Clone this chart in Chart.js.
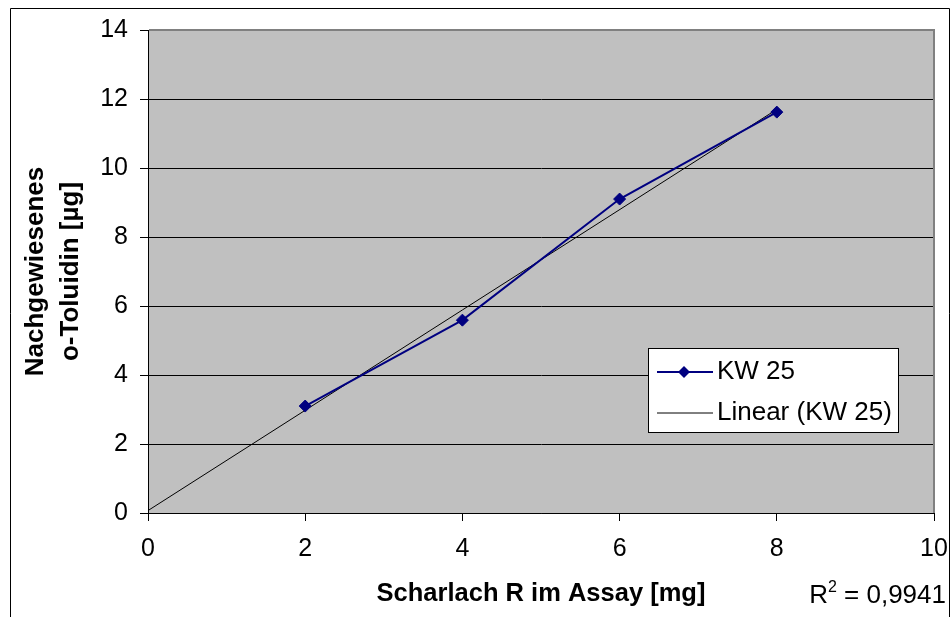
<!DOCTYPE html>
<html>
<head>
<meta charset="utf-8">
<script src="https://cdn.jsdelivr.net/npm/chart.js@4/dist/chart.umd.min.js"></script>
<style>
  html, body { margin: 0; padding: 0; background: #ffffff; }
  #wrap { width: 952px; height: 617px; position: relative; }
</style>
</head>
<body>
<div id="wrap"><canvas id="c" width="952" height="617"></canvas></div>
<script>
// ---- data ----
const xValues = [2, 4, 6, 8];
const kw25 = [3.1, 5.59, 9.1, 11.62];
const trendX = [0, 8];
const trendY = [0.07, 11.7];
const xTicks = [0, 2, 4, 6, 8, 10];
const yTicks = [0, 2, 4, 6, 8, 10, 12, 14];
const seriesLabel = 'KW 25';
const trendLabel = 'Linear (KW 25)';
const xTitle = 'Scharlach R im Assay [mg]';
const yTitle = ['Nachgewiesenes', 'o-Toluidin [µg]'];
const r2Text = ['R', '2', ' = 0,9941'];

const FONT = "'Liberation Sans', Arial, sans-serif";

const kwPoints = xValues.map((x, i) => ({ x: x, y: kw25[i] }));
const trendPoints = trendX.map((x, i) => ({ x: x, y: trendY[i] }));

const decorPlugin = {
  id: 'decor',
  beforeDraw(chart) {
    const { ctx, chartArea: a } = chart;
    ctx.save();
    ctx.fillStyle = '#ffffff';
    ctx.fillRect(0, 0, chart.width, chart.height);
    ctx.fillStyle = '#c0c0c0';
    ctx.fillRect(a.left, a.top, a.right - a.left, a.bottom - a.top);
    ctx.strokeStyle = '#000000';
    ctx.lineWidth = 1;
    ctx.beginPath();
    ctx.moveTo(10.5, chart.height + 2);
    ctx.lineTo(10.5, 8.5);
    ctx.lineTo(949.5, 8.5);
    ctx.lineTo(949.5, chart.height + 2);
    ctx.stroke();
    ctx.restore();
  },
  beforeDatasetsDraw(chart) {
    const { ctx, chartArea: a } = chart;
    ctx.save();
    ctx.strokeStyle = '#808080';
    ctx.lineWidth = 2;
    ctx.beginPath();
    ctx.moveTo(a.left + 1, a.top);
    ctx.lineTo(a.right, a.top);
    ctx.lineTo(a.right, a.bottom);
    ctx.stroke();
    ctx.restore();
  },
  afterDraw(chart) {
    const { ctx } = chart;
    const ds = chart.data.datasets;
    ctx.save();
    const bx = 648.5, by = 348.5, bw = 250, bh = 84;
    ctx.fillStyle = '#ffffff';
    ctx.fillRect(bx, by, bw, bh);
    ctx.strokeStyle = '#000000';
    ctx.lineWidth = 1;
    ctx.strokeRect(bx, by, bw, bh);
    const rows = [372, 413];
    ds.forEach((d, i) => {
      const y = rows[i];
      ctx.strokeStyle = d.borderColor;
      ctx.lineWidth = d.borderWidth;
      ctx.beginPath();
      ctx.moveTo(657, y);
      ctx.lineTo(713, y);
      ctx.stroke();
      if (d.pointRadius > 0) {
        ctx.fillStyle = d.pointBackgroundColor;
        const r = d.pointRadius;
        ctx.beginPath();
        ctx.moveTo(684, y - r);
        ctx.lineTo(684 + r, y);
        ctx.lineTo(684, y + r);
        ctx.lineTo(684 - r, y);
        ctx.closePath();
        ctx.fill();
      }
      ctx.fillStyle = '#000000';
      ctx.font = '26px ' + FONT;
      ctx.textAlign = 'left';
      ctx.textBaseline = 'middle';
      ctx.fillText(d.label, 717, y);
    });
    ctx.fillStyle = '#000000';
    ctx.textBaseline = 'alphabetic';
    ctx.textAlign = 'left';
    ctx.font = '26px ' + FONT;
    const w0 = ctx.measureText(r2Text[0]).width;
    const w2 = ctx.measureText(r2Text[2]).width;
    ctx.font = '16px ' + FONT;
    const w1 = ctx.measureText(r2Text[1]).width;
    let x = 946 - (w0 + w1 + w2);
    const base = 603;
    ctx.font = '26px ' + FONT;
    ctx.fillText(r2Text[0], x, base);
    x += w0;
    ctx.font = '16px ' + FONT;
    ctx.fillText(r2Text[1], x, base - 11);
    x += w1;
    ctx.font = '26px ' + FONT;
    ctx.fillText(r2Text[2], x, base);
    ctx.restore();
  }
};

new Chart(document.getElementById('c'), {
  type: 'scatter',
  data: {
    datasets: [
      {
        label: seriesLabel,
        data: kwPoints,
        showLine: true,
        borderColor: '#000080',
        backgroundColor: '#000080',
        pointBackgroundColor: '#000080',
        pointBorderColor: '#000080',
        borderWidth: 2,
        pointStyle: 'rectRot',
        pointRadius: 6,
        pointBorderWidth: 1,
        tension: 0,
        order: 1
      },
      {
        label: trendLabel,
        data: trendPoints,
        showLine: true,
        borderColor: '#000000',
        backgroundColor: '#000000',
        pointBackgroundColor: '#000000',
        borderWidth: 1,
        pointRadius: 0,
        tension: 0,
        order: 2
      }
    ]
  },
  options: {
    responsive: false,
    animation: false,
    devicePixelRatio: 1,
    layout: { padding: { left: 0, top: 30, right: 18, bottom: 0 } },
    plugins: {
      legend: { display: false },
      tooltip: { enabled: false },
      title: { display: false }
    },
    scales: {
      x: {
        type: 'linear',
        min: 0,
        max: 10,
        afterBuildTicks(scale) { scale.ticks = xTicks.map(v => ({ value: v })); },
        afterFit(scale) { scale.height = 104; scale.paddingLeft = 0; scale.paddingRight = 0; },
        ticks: {
          color: '#000000',
          font: { family: FONT, size: 25 },
          padding: 13,
          maxRotation: 0,
          autoSkip: false
        },
        grid: {
          display: true,
          drawOnChartArea: false,
          drawTicks: true,
          tickLength: 8,
          color: '#000000'
        },
        border: { display: true, color: '#000000', width: 1 },
        title: {
          display: true,
          text: xTitle,
          color: '#000000',
          font: { family: FONT, size: 25.5, weight: 'bold', lineHeight: 1.4 },
          padding: { top: 0, bottom: 5 }
        }
      },
      y: {
        type: 'linear',
        min: 0,
        max: 14,
        afterBuildTicks(scale) { scale.ticks = yTicks.map(v => ({ value: v })); },
        afterFit(scale) { scale.width = 148; scale.paddingTop = 0; scale.paddingBottom = 0; },
        ticks: {
          color: '#000000',
          font: { family: FONT, size: 25 },
          padding: 12,
          autoSkip: false
        },
        grid: {
          display: true,
          drawOnChartArea: true,
          drawTicks: true,
          tickLength: 8,
          color: '#000000',
          lineWidth: 1
        },
        border: { display: true, color: '#000000', width: 1 },
        title: {
          display: true,
          text: yTitle,
          color: '#000000',
          font: { family: FONT, size: 26, weight: 'bold', lineHeight: 1.35 },
          padding: { top: 18, bottom: 0 }
        }
      }
    }
  },
  plugins: [decorPlugin]
});
</script>
</body>
</html>
